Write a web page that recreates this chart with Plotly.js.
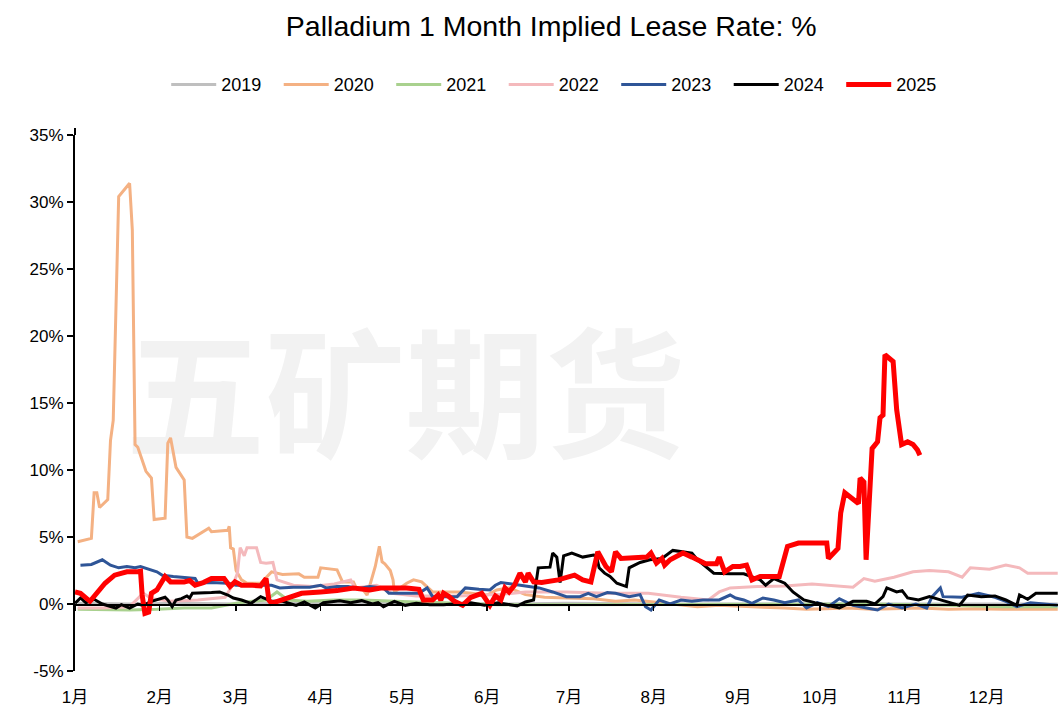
<!DOCTYPE html>
<html>
<head>
<meta charset="utf-8">
<script src="https://cdn.plot.ly/plotly-3.0.1.min.js"></script>
<style>html,body{margin:0;padding:0;background:#fff;}#chart{width:1058px;height:712px;}</style>
</head>
<body>
<div id="chart"></div>
<script>
// ---- data (x = day of year, y = lease rate in %) ----
const monthLabels = ['1月','2月','3月','4月','5月','6月','7月','8月','9月','10月','11月','12月'];
const monthStartDays = [0,31,59,90,120,151,181,212,243,273,304,334];
const yTickVals = [-5,0,5,10,15,20,25,30,35];
const yTickText = ['-5%','0%','5%','10%','15%','20%','25%','30%','35%'];
const seriesNames = ['2019','2020','2021','2022','2023','2024','2025'];
const seriesColors = ['#bfbfbf','#f4b183','#a9d18e','#f4b9bc','#2f5597','#000000','#ff0000'];

const s2019 = [[1,0.05],[20,0.0],[40,0.05],[60,0.0],[80,0.05],[100,0.0],[120,0.05],[140,0.0],[160,0.0],[180,0.05],[200,0.0],[220,0.0],[240,0.0],[260,0.0],[280,0.0],[300,0.0],[320,0.0],[340,0.0],[360,0.0]];

const s2020 = [[1,4.65],[6,4.9],[7,8.3],[8,8.3],[9,7.2],[12,7.8],[13,12.2],[14,13.7],[16,30.4],[20,31.4],[21,27.9],[22,11.9],[23,11.7],[26,9.9],[28,9.4],[29,6.3],[33,6.4],[34,12.0],[35,12.4],[37,10.2],[40,9.25],[41,5.0],[43,4.9],[49,5.65],[50,5.4],[56,5.5],[56.5,5.8],[57,4.2],[58,4.1],[59,2.5],[61,1.8],[63,1.55],[68,1.55],[72,2.4],[76,2.2],[82,2.25],[84,2.0],[89,2.0],[90,2.7],[96,2.55],[98,1.65],[102,1.65],[103,1.2],[105,1.2],[107,0.67],[110,2.8],[111.5,4.3],[112.5,3.15],[113.5,3.0],[115.5,2.5],[116.5,1.8],[117,0.9],[121.5,1.55],[124,1.8],[127,1.65],[129,1.3],[131,0.9],[141,0.9],[151,0.67],[154.5,1.05],[159,1.2],[165,0.7],[172,0.5],[180,0.45],[190,0.4],[198,0.2],[205,0.3],[212,0.15],[220,0.0],[228,-0.2],[236,-0.1],[245,-0.2],[252,-0.25],[260,-0.3],[268,-0.4],[275,-0.35],[283,-0.3],[292,-0.4],[300,-0.35],[310,-0.3],[320,-0.4],[330,-0.35],[340,-0.4],[350,-0.4],[360,-0.4]];

const s2021 = [[1,-0.4],[10,-0.45],[20,-0.45],[30,-0.4],[40,-0.3],[50,-0.3],[55,-0.1],[60,0.1],[65,0.2],[70,0.3],[74,0.9],[78,0.3],[85,0.2],[95,0.3],[105,0.3],[115,0.2],[125,0.15],[135,0.1],[145,0.05],[155,-0.05],[170,-0.05],[200,-0.05],[230,-0.05],[260,0.0],[290,0.0],[320,-0.1],[340,-0.2],[360,-0.2]];

const s2022 = [[1,-0.3],[10,-0.3],[20,-0.2],[25,0.8],[28,0.4],[35,0.2],[45,0.3],[55,0.5],[58,1.5],[59.5,2.3],[60.5,4.2],[62,3.6],[63,4.2],[66.5,4.2],[68,3.1],[70,3.05],[72.5,3.1],[74,1.8],[80,1.4],[87,1.3],[95,1.5],[101,1.8],[102.5,1.2],[110.5,1.4],[116,0.8],[125,0.6],[140,0.6],[155,0.7],[165,0.9],[180,0.9],[195,0.8],[210,0.8],[222,0.5],[232,0.3],[236,0.9],[240,1.2],[250,1.3],[260,1.35],[270,1.5],[280,1.3],[285,1.25],[289,1.9],[293,1.7],[300,2.0],[307,2.4],[313,2.5],[320,2.4],[325,2.0],[328,2.7],[335,2.6],[341,2.9],[346,2.7],[349,2.3],[355,2.3],[360,2.3]];

const s2023 = [[2,2.9],[6,2.95],[10,3.3],[13,2.9],[16,2.7],[19,2.8],[22,2.7],[24,2.8],[30,2.4],[32,2.15],[36,2.05],[40,2.0],[44,1.9],[45,1.55],[50,1.6],[56,1.55],[59,1.4],[65,1.4],[72,1.4],[75,1.2],[80,1.25],[86,1.25],[90,1.4],[92,1.2],[96,1.3],[100,1.3],[104,1.15],[108,1.3],[113,1.2],[115,0.8],[120,0.8],[126,0.8],[129,1.2],[131,0.55],[140,0.55],[143,1.2],[148,1.1],[152,1.05],[154,1.4],[156,1.6],[160,1.5],[165,1.35],[170,1.2],[175,0.9],[180,0.55],[185,0.55],[188,0.8],[191,0.55],[195,0.85],[198,0.8],[203,0.55],[207,0.7],[209,-0.2],[211,-0.45],[214,0.3],[218,0.0],[222,0.3],[226,0.2],[230,0.3],[236,0.3],[240,0.67],[242,0.45],[245,0.3],[248,0.05],[252,0.45],[256,0.3],[260,0.1],[265,0.3],[268,-0.3],[272,0.1],[276,-0.2],[280,0.4],[285,-0.1],[290,-0.3],[294,-0.45],[298,0.0],[303,-0.3],[308,0.0],[312,-0.3],[314,0.55],[317,1.2],[318,0.55],[325,0.5],[331,0.8],[337,0.5],[341,0.2],[345,-0.2],[350,0.1],[355,0.0],[360,-0.1]];

const s2024 = [[0,0.05],[2,0.45],[4,0.1],[7,0.35],[10,0.0],[15,-0.3],[17,-0.05],[20,-0.3],[23,0.0],[25,-0.1],[28,0.2],[33,0.5],[34,0.3],[35.6,-0.2],[37,0.3],[39,0.4],[41,0.6],[42,0.45],[43,0.8],[47,0.8],[50,0.85],[53,0.9],[56,0.67],[58,0.45],[61,0.3],[64.5,0.05],[68,0.55],[72,0.2],[76,0.2],[81,-0.1],[84,0.15],[88,-0.3],[91,0.1],[97,0.25],[101,0.1],[105,0.25],[109,0.0],[111,0.1],[113,-0.2],[117,0.2],[121,-0.1],[125,0.05],[130,-0.05],[135,-0.05],[141,0.05],[145,0.1],[150,-0.1],[155,0.1],[162,-0.15],[165,0.15],[168,0.3],[169.7,2.7],[174,2.75],[175,3.8],[176.5,3.5],[177.7,1.6],[179,3.6],[182,3.8],[186,3.5],[190,3.65],[191,3.6],[192,2.7],[194,2.3],[196,2.05],[198.5,1.55],[202,1.3],[203,2.7],[207,3.1],[210.6,3.3],[215,3.4],[219,4.0],[222,3.9],[226,3.8],[228,3.3],[234,2.3],[240,2.25],[245,2.25],[251,1.8],[253,1.4],[256,1.9],[260,1.55],[263,0.9],[267,0.3],[271,0.1],[275,-0.1],[280,-0.3],[285,0.2],[290,0.2],[293,0.0],[296,0.55],[297.4,1.2],[301,0.9],[303,1.0],[305,0.45],[309,0.3],[313,0.55],[318,0.25],[324,-0.1],[327,0.67],[332,0.55],[337,0.6],[341,0.3],[345,-0.1],[346,0.67],[349,0.35],[352,0.8],[356,0.8],[360,0.8]];

const s2025 = [[0,0.9],[2,0.8],[5.5,0.2],[8,0.8],[11,1.55],[14.5,2.15],[19,2.4],[22.6,2.4],[24,2.45],[24.6,0.67],[25.6,-0.7],[27,-0.6],[28,0.8],[30,1.05],[33,2.05],[35,1.65],[40,1.65],[42,1.75],[44,1.4],[47,1.6],[50,1.9],[54.6,1.9],[56.8,1.3],[58.6,1.65],[61,1.4],[65,1.4],[68,1.35],[70,1.9],[71,0.3],[72,0.05],[77.5,0.45],[80,0.67],[83,0.8],[90,0.9],[96,1.0],[102,1.2],[108,1.05],[112,1.2],[121.5,1.2],[126,1.1],[127.6,0.3],[131,0.3],[133,0.67],[134,0.3],[135,0.8],[137,0.55],[139,0.2],[142,-0.1],[145,0.5],[149,0.8],[152,-0.1],[154,0.6],[156,0.3],[157.5,1.2],[159,0.9],[161,1.4],[163,2.3],[165,1.65],[166,2.3],[168,1.65],[171,1.6],[177,1.8],[181,2.05],[183,2.15],[186,1.8],[189,1.65],[191.5,3.9],[194.5,2.8],[196.5,2.4],[198,3.9],[200,3.4],[206,3.5],[209.5,3.5],[211,3.8],[213,3.05],[215,3.4],[216,2.9],[218,3.3],[222.7,3.8],[226,3.5],[228,3.3],[231,3.0],[235,3.0],[236,3.5],[238,2.4],[241,2.8],[243.6,2.8],[246,2.9],[248,1.8],[251,2.05],[258,2.05],[259.5,3.3],[261,4.3],[265,4.55],[275.4,4.55],[276,3.4],[279.5,4.15],[280.5,6.8],[282,8.3],[287,7.5],[287.6,9.4],[289,9.1],[289.8,3.3],[292,11.6],[294,12.1],[294.9,13.9],[296,14.1],[296.7,18.6],[299.7,18.1],[301,14.5],[302.8,11.9],[305,12.1],[307,11.9],[308.6,11.5],[309.5,11.1]];

const seriesData = [s2019,s2020,s2021,s2022,s2023,s2024,s2025];
const seriesWidths = [3,3,3,3,3,3,5];

// ---- build ----
const FONT = 'Liberation Sans, Noto Sans CJK SC, sans-serif';
const traces = [];
// watermark (drawn first so lines sit on top)
traces.push({
  x:[121], y:[14.3], mode:'text', text:['五矿期货'], textposition:'middle center',
  textfont:{family:'Noto Sans CJK SC', size:140, color:'#f2f2f2', weight:700},
  hoverinfo:'skip', showlegend:false, cliponaxis:false
});
seriesData.forEach((s,i)=>{
  traces.push({
    x:s.map(p=>p[0]), y:s.map(p=>p[1]), name:seriesNames[i], type:'scatter', mode:'lines',
    line:{color:seriesColors[i], width:seriesWidths[i]}, hoverinfo:'x+y+name'
  });
});
// dummy trace for the zero-crossing axis
traces.push({x:[0], y:[0], xaxis:'x2', mode:'markers', marker:{opacity:0}, showlegend:false, hoverinfo:'skip'});

const xr = [0, 360.1];
const layout = {
  width:1058, height:712,
  margin:{l:75, r:0, t:135, b:41, pad:0},
  paper_bgcolor:'#ffffff', plot_bgcolor:'#ffffff',
  font:{family:FONT, size:16, color:'#000'},
  title:{text:'Palladium 1 Month Implied Lease Rate: %', font:{family:'Liberation Sans, sans-serif', size:28.5, color:'#000'},
    xref:'container', x:0.521, xanchor:'center', yref:'container', y:0.964, yanchor:'middle'},
  showlegend:true,
  legend:{orientation:'h', xref:'container', yref:'container', x:0.5295, xanchor:'center', y:0.881, yanchor:'middle',
    font:{family:FONT, size:18, color:'#000'}, traceorder:'normal', itemwidth:45, entrywidth:52.5, entrywidthmode:'pixels',
    bgcolor:'rgba(0,0,0,0)'},
  xaxis:{range:xr, tickvals:monthStartDays, ticktext:monthLabels, showgrid:false, zeroline:false,
    showline:false, ticks:'', ticklabelstandoff:14, tickfont:{family:FONT, size:17}, fixedrange:true},
  xaxis2:{range:xr, overlaying:'x', anchor:'free', position:0.125, side:'bottom', showline:true, linecolor:'#000', linewidth:1.5,
    ticks:'outside', ticklen:5, tickwidth:1.5, tickcolor:'#000', tickvals:monthStartDays, showticklabels:false,
    showgrid:false, zeroline:false},
  yaxis:{range:[-5,35], tickvals:yTickVals, ticktext:yTickText, showgrid:false, zeroline:false,
    showline:true, linecolor:'#000', linewidth:2, ticks:'outside', ticklen:6, tickwidth:1.5, tickcolor:'#000',
    tickfont:{family:FONT, size:17}, fixedrange:true},
  shapes:[{type:'line', xref:'paper', yref:'paper', x0:0, x1:0, y0:1, y1:1.013, line:{color:'#000', width:2}}]
};
Plotly.newPlot('chart', traces, layout, {displayModeBar:false, staticPlot:true});
</script>
</body>
</html>
